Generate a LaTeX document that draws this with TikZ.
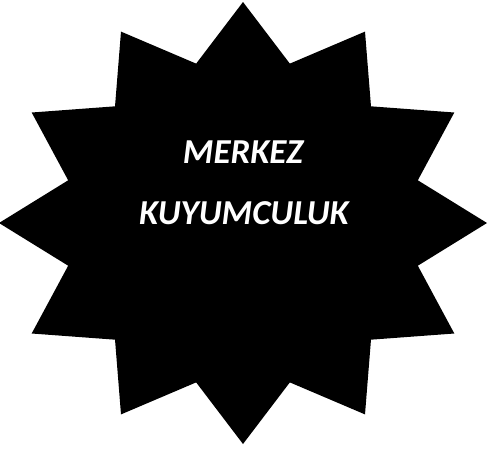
\documentclass[tikz,border=0pt]{standalone}
\usepackage{fontspec}
\setmainfont{Carlito}
\begin{document}
\begin{tikzpicture}[x=1pt,y=-1pt,
  lbl/.style={text=white,font=\fontsize{35}{38}\selectfont\bfseries\itshape,anchor=base,inner sep=0pt}]
\useasboundingbox (0,0) rectangle (488,448);
\fill[black] (243+244,223)
  \foreach \i in {0,...,23}{
    \ifodd\i -- ({243+181*cos(\i*15)},{223-165*sin(\i*15)})
    \else -- ({243+244*cos(\i*15)},{223-221*sin(\i*15)})\fi
  } -- cycle;
\node[lbl] (m) at (243,163.5) {MERKEZ};
\node[lbl] (k) at (244,224.5) {KUYUMCULUK};
\end{tikzpicture}
\end{document}
